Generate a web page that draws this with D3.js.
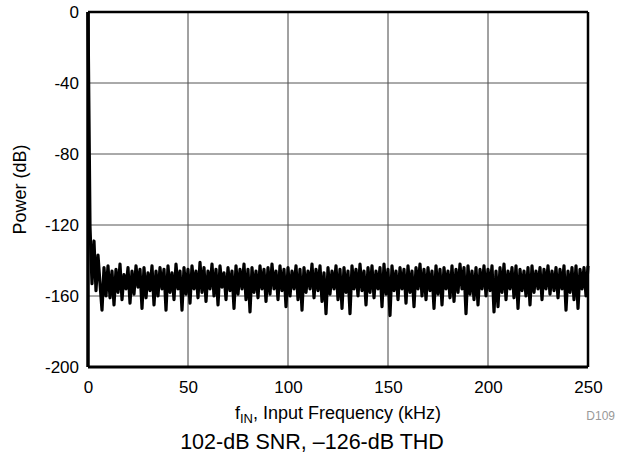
<!DOCTYPE html>
<html>
<head>
<meta charset="utf-8">
<script src="https://cdn.jsdelivr.net/npm/d3@7"></script>
<style>
  body { margin: 0; background: #fff; }
  text { font-family: "Liberation Sans", Arial, sans-serif; }
</style>
</head>
<body>
<script>
// FFT bins, 1 kHz apart, starting at DC
var binStepKHz = 1;
var powerDb = [
  0, -121, -153, -129, -157, -137, -153, -168, -144, -160,
  -143, -161, -146, -165, -145, -158, -142, -162, -148, -156,
  -144, -164, -146, -159, -143, -155, -145, -167, -144, -161,
  -147, -157, -143, -165, -146, -160, -144, -156, -145, -168,
  -143, -158, -147, -162, -142, -156, -146, -168, -144, -159,
  -145, -164, -143, -156, -146, -161, -141, -158, -144, -163,
  -146, -156, -142, -160, -145, -165, -143, -155, -147, -162,
  -144, -157, -146, -167, -143, -159, -145, -156, -142, -162,
  -145, -169, -144, -158, -146, -161, -143, -156, -145, -163,
  -144, -159, -142, -156, -146, -162, -143, -157, -145, -166,
  -144, -160, -146, -156, -143, -162, -145, -168, -144, -158,
  -146, -156, -142, -161, -145, -157, -143, -163, -147, -170,
  -144, -159, -146, -156, -143, -162, -145, -167, -144, -158,
  -146, -170, -143, -156, -145, -160, -142, -157, -146, -165,
  -144, -158, -143, -161, -146, -156, -144, -166, -142, -159,
  -145, -171, -143, -157, -146, -162, -144, -156, -145, -164,
  -143, -158, -146, -166, -144, -156, -142, -160, -145, -162,
  -144, -157, -146, -167, -143, -159, -145, -165, -144, -156,
  -146, -161, -143, -163, -145, -158, -142, -156, -144, -170,
  -143, -159, -146, -162, -144, -165, -145, -156, -143, -160,
  -145, -157, -143, -169, -146, -166, -144, -158, -142, -162,
  -146, -156, -144, -161, -143, -167, -145, -157, -146, -160,
  -144, -165, -143, -158, -146, -156, -144, -162, -145, -156,
  -143, -159, -146, -157, -144, -161, -145, -156, -143, -168,
  -146, -158, -144, -162, -143, -167, -145, -156, -144, -160,
  -143
];
var xTicks = [0, 50, 100, 150, 200, 250];
var yTicks = [0, -40, -80, -120, -160, -200];

var margin = {top: 12, right: 36, bottom: 87, left: 88},
    width = 624 - margin.left - margin.right,
    height = 454 - margin.top - margin.bottom;

var svg = d3.select("body")
            .append("svg")
            .attr("width", 624)
            .attr("height", 454);

var g = svg.append("g")
           .attr("transform", "translate(" + margin.left + "," + margin.top + ")");

var x = d3.scaleLinear().domain([0, 250]).range([0, width]);
var y = d3.scaleLinear().domain([-200, 0]).range([height, 0]);

// grid
g.selectAll(".vgrid")
 .data(xTicks.slice(1, -1))
 .enter().append("line")
 .attr("x1", function(d) { return x(d); })
 .attr("x2", function(d) { return x(d); })
 .attr("y1", 0).attr("y2", height)
 .attr("stroke", "#444").attr("stroke-width", 1);

g.selectAll(".hgrid")
 .data(yTicks.slice(1, -1))
 .enter().append("line")
 .attr("y1", function(d) { return y(d); })
 .attr("y2", function(d) { return y(d); })
 .attr("x1", 0).attr("x2", width)
 .attr("stroke", "#555").attr("stroke-width", 1);

// trace
var line = d3.line()
  .x(function(d, i) { return x(i * binStepKHz); })
  .y(function(d) { return y(d); });

g.append("path")
 .datum(powerDb)
 .attr("fill", "none")
 .attr("stroke", "#000")
 .attr("stroke-width", 3.2)
 .attr("stroke-linejoin", "round")
 .attr("d", line);

// frame
g.append("line").attr("x1", 0).attr("x2", width).attr("y1", 0).attr("y2", 0)
 .attr("stroke", "#000").attr("stroke-width", 2.5);
g.append("line").attr("x1", width).attr("x2", width).attr("y1", 0).attr("y2", height)
 .attr("stroke", "#000").attr("stroke-width", 2.5);
g.append("line").attr("x1", 0).attr("x2", width).attr("y1", height).attr("y2", height)
 .attr("stroke", "#000").attr("stroke-width", 3);
g.append("line").attr("x1", 0).attr("x2", 0).attr("y1", 0).attr("y2", height)
 .attr("stroke", "#000").attr("stroke-width", 3.5);

// axes
var fmt = function(d) { return String(d); };

var xAxis = g.append("g")
  .attr("transform", "translate(0," + height + ")")
  .call(d3.axisBottom(x).tickValues(xTicks).tickFormat(fmt).tickSize(0).tickPadding(14));
xAxis.select(".domain").remove();
xAxis.selectAll("text")
  .style("font-size", "17px")
  .style("font-family", "Liberation Sans, Arial, sans-serif")
  .attr("fill", "#000");

var yAxis = g.append("g")
  .call(d3.axisLeft(y).tickValues(yTicks).tickFormat(fmt).tickSize(0).tickPadding(9));
yAxis.select(".domain").remove();
yAxis.selectAll("text")
  .style("font-size", "17px")
  .style("font-family", "Liberation Sans, Arial, sans-serif")
  .attr("fill", "#000");

// titles
var xt = svg.append("text")
  .attr("x", margin.left + width / 2).attr("y", 419)
  .style("text-anchor", "middle")
  .style("font-size", "18px");
xt.append("tspan").text("f");
xt.append("tspan").attr("dy", 4).style("font-size", "13px").text("IN");
xt.append("tspan").attr("dy", -4).text(", Input Frequency (kHz)");

svg.append("text")
  .attr("transform", "rotate(-90)")
  .attr("x", -(margin.top + height / 2)).attr("y", 26)
  .style("text-anchor", "middle")
  .style("font-size", "18px")
  .text("Power (dB)");

svg.append("text")
  .attr("x", 615).attr("y", 420)
  .style("text-anchor", "end")
  .style("font-size", "12px")
  .attr("fill", "#999")
  .text("D109");

svg.append("text")
  .attr("x", 312).attr("y", 449)
  .style("text-anchor", "middle")
  .style("font-size", "21.5px")
  .text("102-dB SNR, \u2013126-dB THD");
</script>
</body>
</html>
